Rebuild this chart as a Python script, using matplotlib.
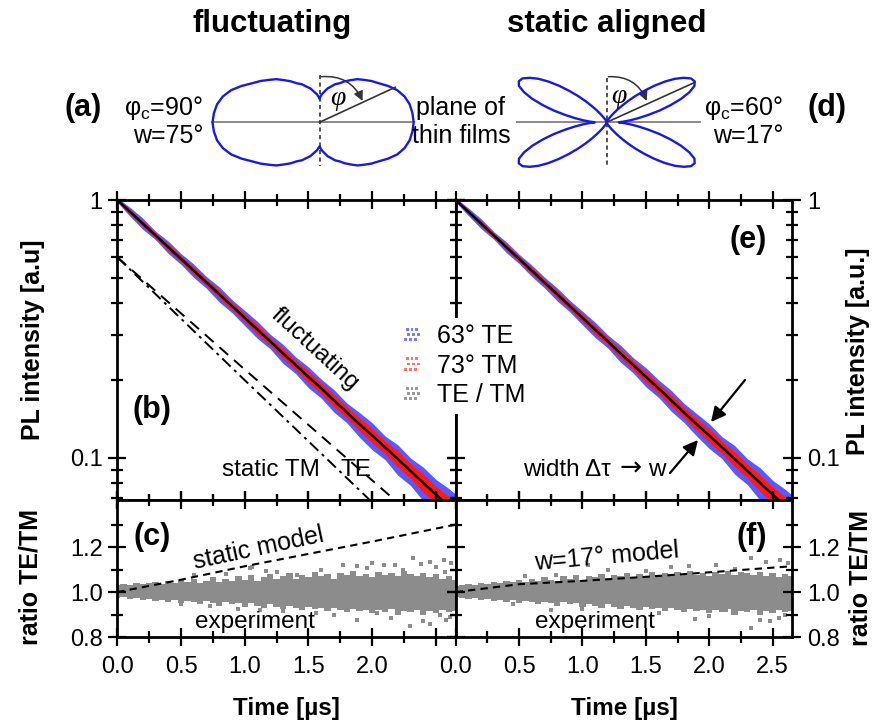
import numpy as np
import matplotlib
matplotlib.use("Agg")
import matplotlib.pyplot as plt
from matplotlib.patches import FancyArrowPatch
from matplotlib.ticker import NullFormatter

plt.rcParams['font.family'] = ['Liberation Sans', 'DejaVu Sans']
plt.rcParams['mathtext.fontset'] = 'custom'
plt.rcParams['mathtext.rm'] = 'Liberation Sans'
plt.rcParams['mathtext.it'] = 'Liberation Sans:italic'
plt.rcParams['mathtext.bf'] = 'Liberation Sans:bold'

# ---------------------------------------------------------------------------
# Data
# ---------------------------------------------------------------------------

# emission patterns, angle from film normal (deg) -> radius (px), one quadrant
fluct_phi = [0, 5, 10, 15, 20, 25, 30, 35, 40, 45, 50, 55, 60, 65, 70, 75, 80, 85, 90]
fluct_r = [24, 28, 31, 35, 38, 42, 45, 50, 55, 61, 66, 72, 78, 86, 94, 100, 104, 106, 107]
aligned_phi = [0, 10, 20, 25, 30, 32.5, 35, 37.5, 40, 42.5, 45, 47.5, 50, 52.5, 55, 57.5,
               60, 62.5, 65, 67.5, 70, 72.5, 75, 77.5, 80, 82.5, 85, 87.5, 90]
aligned_r = [0, 0.5, 1.5, 2.5, 4, 5.5, 8, 11, 16, 22, 30, 39, 49, 60, 71, 81,
             89, 95, 97, 95, 88, 78, 66, 54, 42, 32, 24, 17, 12]

# PL transients (log panels)
decay_t = [0.0, 0.1, 0.2, 0.3, 0.4, 0.5, 0.6, 0.7, 0.8, 0.9, 1.0, 1.1, 1.2, 1.3,
           1.4, 1.5, 1.6, 1.7, 1.8, 1.9, 2.0, 2.1, 2.2, 2.3, 2.4, 2.5, 2.6, 2.65]
decay_center = [1.0, 0.90, 0.81, 0.729, 0.656, 0.591, 0.532, 0.479, 0.431, 0.388, 0.349, 0.314,
                0.283, 0.254, 0.229, 0.206, 0.186, 0.167, 0.150, 0.135, 0.122, 0.110, 0.099,
                0.089, 0.080, 0.072, 0.065, 0.062]
te_spread_b = [0.02, 0.04, 0.05, 0.038, 0.055, 0.048, 0.06, 0.052, 0.068, 0.058, 0.068, 0.076,
               0.065, 0.085, 0.075, 0.093, 0.085, 0.1, 0.088, 0.11, 0.12, 0.105, 0.135, 0.122,
               0.15, 0.145, 0.17, 0.17]
tm_spread_b = [0.012, 0.021, 0.027, 0.022, 0.03, 0.027, 0.033, 0.03, 0.037, 0.033, 0.039, 0.042,
               0.037, 0.045, 0.042, 0.051, 0.048, 0.054, 0.051, 0.06, 0.063, 0.06, 0.072, 0.067,
               0.082, 0.075, 0.09, 0.09]
te_spread_e = [0.02, 0.034, 0.044, 0.034, 0.048, 0.042, 0.051, 0.048, 0.058, 0.051, 0.061, 0.068,
               0.058, 0.076, 0.068, 0.085, 0.078, 0.093, 0.085, 0.1, 0.11, 0.098, 0.127, 0.115,
               0.144, 0.136, 0.16, 0.16]
tm_spread_e = [0.012, 0.018, 0.024, 0.021, 0.027, 0.024, 0.03, 0.027, 0.033, 0.03, 0.036, 0.039,
               0.034, 0.042, 0.039, 0.048, 0.045, 0.051, 0.048, 0.055, 0.06, 0.057, 0.067, 0.063,
               0.075, 0.072, 0.084, 0.084]

static_tm_t = [0.0, 1.0, 2.2]
static_tm = [0.6, 0.2, 0.054]
static_te_t = [0.0, 1.0, 2.4]
static_te = [0.6, 0.22, 0.055]

# TE/TM ratio panels
model_t = [0.0, 0.5, 1.0, 1.5, 2.0, 2.65]
static_model = [1.0, 1.055, 1.115, 1.17, 1.225, 1.30]
w17_model = [1.0, 1.035, 1.05, 1.068, 1.088, 1.115]

ratio_t = np.round(np.arange(0.0, 2.66, 0.05), 2)
ratio_c_up = [1.03, 1.035, 1.03, 1.04, 1.035, 1.04, 1.045, 1.035, 1.05, 1.04, 1.055, 1.045, 1.06, 1.04,
              1.05, 1.065, 1.045, 1.06, 1.05, 1.07, 1.055, 1.075, 1.05, 1.065, 1.08, 1.06, 1.07,
              1.085, 1.06, 1.075, 1.065, 1.09, 1.07, 1.08, 1.06, 1.085, 1.075, 1.095, 1.07, 1.08,
              1.065, 1.09, 1.075, 1.085, 1.07, 1.095, 1.08, 1.07, 1.085, 1.065, 1.08, 1.06, 1.07, 1.055]
ratio_c_low = [0.975, 0.98, 0.97, 0.975, 0.965, 0.97, 0.96, 0.965, 0.955, 0.965, 0.95, 0.96, 0.955,
               0.945, 0.96, 0.95, 0.94, 0.955, 0.945, 0.95, 0.935, 0.95, 0.94, 0.93, 0.945, 0.935,
               0.925, 0.94, 0.93, 0.92, 0.935, 0.925, 0.93, 0.915, 0.93, 0.92, 0.91, 0.925, 0.915,
               0.92, 0.905, 0.92, 0.91, 0.925, 0.9, 0.915, 0.91, 0.92, 0.9, 0.915, 0.905, 0.92, 0.91, 0.915]
ratio_f_up = [1.025, 1.03, 1.035, 1.03, 1.04, 1.035, 1.045, 1.04, 1.05, 1.045, 1.055, 1.045, 1.06,
              1.05, 1.065, 1.055, 1.05, 1.07, 1.06, 1.075, 1.055, 1.07, 1.065, 1.08, 1.06, 1.075,
              1.07, 1.085, 1.065, 1.08, 1.07, 1.09, 1.075, 1.085, 1.07, 1.09, 1.08, 1.095, 1.075,
              1.085, 1.07, 1.09, 1.08, 1.095, 1.075, 1.09, 1.085, 1.075, 1.09, 1.07, 1.085, 1.065, 1.08, 1.07]
ratio_f_low = [0.98, 0.975, 0.97, 0.975, 0.965, 0.97, 0.96, 0.965, 0.955, 0.965, 0.95, 0.96, 0.955,
               0.945, 0.955, 0.95, 0.94, 0.955, 0.945, 0.95, 0.935, 0.945, 0.94, 0.93, 0.945, 0.935,
               0.925, 0.94, 0.93, 0.92, 0.935, 0.925, 0.93, 0.915, 0.93, 0.92, 0.91, 0.925, 0.915,
               0.92, 0.905, 0.92, 0.91, 0.925, 0.9, 0.915, 0.91, 0.92, 0.9, 0.915, 0.905, 0.92, 0.91, 0.915]

out_c_t = [1.04, 1.17, 1.41, 1.77, 1.88, 1.96, 2.09, 2.24, 2.32, 2.45, 2.56, 2.57, 0.6, 0.85,
           1.06, 1.25, 1.6, 2.0, 2.18, 2.38, 2.5, 2.62,
           0.73, 1.12, 1.56, 1.88, 2.04, 2.30, 2.40, 2.53, 2.61, 0.5, 0.95, 1.3, 1.7, 2.15, 2.45, 2.58]
out_c_r = [1.107, 1.092, 1.077, 1.121, 1.114, 1.107, 1.121, 1.10, 1.15, 1.136, 1.143, 1.09, 1.075,
           1.08, 1.11, 1.09, 1.10, 1.13, 1.12, 1.125, 1.11, 1.13,
           0.936, 0.921, 0.907, 0.877, 0.907, 0.847, 0.87, 0.90, 0.89, 0.945, 0.925, 0.915, 0.9,
           0.885, 0.86, 0.875]
out_f_t = [0.79, 1.04, 1.84, 2.33, 2.45, 2.56, 0.55, 1.2, 1.5, 1.7, 2.05, 2.2, 2.62,
           0.75, 1.39, 1.89, 2.13, 2.33, 2.48, 2.60, 0.45, 1.0, 1.6, 2.0, 2.4, 2.55]
out_f_r = [1.077, 1.121, 1.114, 1.15, 1.136, 1.143, 1.07, 1.1, 1.095, 1.11, 1.12, 1.105, 1.13,
           0.921, 0.936, 0.88, 0.92, 0.84, 0.87, 0.90, 0.945, 0.925, 0.905, 0.895, 0.875, 0.885]

# ---------------------------------------------------------------------------
# Layout helpers (pixel positions of the 874x721 reference)
# ---------------------------------------------------------------------------
W, H = 874, 721
fig = plt.figure(figsize=(W / 100, H / 100), dpi=100)


def px_rect(x0, y0, x1, y1):
    return [x0 / W, 1 - y1 / H, (x1 - x0) / W, (y1 - y0) / H]


def px(x, y):
    return (x / W, 1 - y / H)


def ftext(x, y, s, **kw):
    kw.setdefault('ha', 'center')
    kw.setdefault('va', 'center')
    return fig.text(x / W, 1 - y / H, s, **kw)


XL, XM, XR = 117.3, 455.7, 792.3
ax_b = fig.add_axes(px_rect(XL, 200, XM, 500))
ax_c = fig.add_axes(px_rect(XL, 500, XM, 637))
ax_e = fig.add_axes(px_rect(XM, 200, XR, 500))
ax_f = fig.add_axes(px_rect(XM, 500, XR, 637))

blue, red, grey = '#3030ff', '#ff1a1a', '#8c8c8c'

# ---------------------------------------------------------------------------
# Decay panels (b), (e)
# ---------------------------------------------------------------------------
c = np.asarray(decay_center)
for ax, te_s, tm_s in ((ax_b, te_spread_b, tm_spread_b), (ax_e, te_spread_e, tm_spread_e)):
    te_s, tm_s = np.asarray(te_s), np.asarray(tm_s)
    ax.fill_between(decay_t, c * (1 - te_s), c * (1 + te_s), color=blue, lw=0, alpha=0.8)
    ax.fill_between(decay_t, c * (1 - tm_s), c * (1 + tm_s), color=red, lw=0)
    ax.plot(decay_t, decay_center, color='black', lw=1.8)

ax_b.plot(static_tm_t, static_tm, color='black', lw=1.4, ls=(0, (6, 2.5, 1.5, 2.5)))
ax_b.plot(static_te_t, static_te, color='black', lw=1.4, ls=(0, (6, 4)))

# ---------------------------------------------------------------------------
# Ratio panels (c), (f)
# ---------------------------------------------------------------------------
for ax, up, low, ot, orr, model in ((ax_c, ratio_c_up, ratio_c_low, out_c_t, out_c_r, static_model),
                                    (ax_f, ratio_f_up, ratio_f_low, out_f_t, out_f_r, w17_model)):
    ax.fill_between(ratio_t, low, up, step='mid', color=grey, lw=0)
    ax.scatter(ot, orr, s=5, marker='s', color=grey, lw=0)
    ax.plot(model_t, model, color='black', lw=1.5, ls=(0, (3.5, 2.5)))

# ---------------------------------------------------------------------------
# Axes formatting
# ---------------------------------------------------------------------------
xmaj = [0.0, 0.5, 1.0, 1.5, 2.0, 2.5]
xmin = [0.25, 0.75, 1.25, 1.75, 2.25]
for ax in (ax_b, ax_c, ax_e, ax_f):
    ax.set_xlim(0, 2.655)
    ax.set_xticks(xmaj)
    ax.set_xticks(xmin, minor=True)
    for s in ax.spines.values():
        s.set_linewidth(2.0)
    ax.tick_params(which='both', direction='inout', top=True, right=True, left=True,
                   width=1.6, labelsize=17, pad=4)
    ax.tick_params(which='major', length=13)
    ax.tick_params(which='minor', length=8)

for ax in (ax_b, ax_e):
    ax.set_yscale('log')
    ax.set_ylim(0.0686, 1.0)
    ax.set_yticks([0.1, 1.0], ['0.1', '1'])
    ax.set_yticks([0.07, 0.08, 0.09, 0.2, 0.3, 0.4, 0.5, 0.6, 0.7, 0.8, 0.9], minor=True)
    ax.yaxis.set_minor_formatter(NullFormatter())
    ax.tick_params(labelbottom=False)

for ax in (ax_c, ax_f):
    ax.set_ylim(0.8, 1.41)
    ax.set_yticks([0.8, 1.0, 1.2], ['0.8', '1.0', '1.2'])
    ax.set_yticks([0.9, 1.1, 1.3], minor=True)
    ax.tick_params(axis='x', pad=7)
    ax.set_xlabel('Time [µs]', fontsize=17.5, fontweight='bold', labelpad=14)

ax_c.set_xticks(xmaj, ['0.0', '0.5', '1.0', '1.5', '2.0', ''])
ax_f.set_xticks(xmaj, ['0.0', '0.5', '1.0', '1.5', '2.0', '2.5'])

for ax in (ax_e, ax_f):
    ax.tick_params(labelleft=False, labelright=True)

ftext(33, 340, 'PL intensity [a.u]', rotation=90, fontsize=18, fontweight='bold')
ftext(30, 577, 'ratio TE/TM', rotation=90, fontsize=18, fontweight='bold')
ftext(858, 351, 'PL intensity [a.u.]', rotation=90, fontsize=18, fontweight='bold')
ftext(861, 578, 'ratio TE/TM', rotation=90, fontsize=18, fontweight='bold')

# ---------------------------------------------------------------------------
# Annotations inside the panels
# ---------------------------------------------------------------------------
ftext(152, 410, '(b)', fontsize=22, fontweight='bold')
ftext(152, 537, '(c)', fontsize=22, fontweight='bold')
ftext(748, 240, '(e)', fontsize=22, fontweight='bold')
ftext(752, 537, '(f)', fontsize=22, fontweight='bold')

ftext(315, 349, 'fluctuating', fontsize=17.5, rotation=-42.5, rotation_mode='anchor')
ftext(271, 470, 'static TM', fontsize=17.5)
ftext(356, 470, 'TE', fontsize=17.5)
ftext(259, 548, 'static model', fontsize=18, rotation=12, rotation_mode='anchor')
ftext(255, 622, 'experiment', fontsize=17.5)
ftext(607, 557, 'w=17° model', fontsize=18, rotation=5, rotation_mode='anchor')
ftext(595, 622, 'experiment', fontsize=17.5)
ftext(611, 470, 'width Δτ', fontsize=17.5, ha='right')
ftext(631, 469, '→', fontsize=19, family=['DejaVu Sans'])
ftext(657, 470, 'w', fontsize=17.5)

for tail, head in (((745, 380), (711, 422)), ((670, 473), (698, 440))):
    fig.add_artist(FancyArrowPatch(px(*tail), px(*head), transform=fig.transFigure,
                                   arrowstyle='-|>', mutation_scale=22, lw=1.6,
                                   color='black', shrinkA=0, shrinkB=0))

# legend
handles = [ax_b.scatter([], [], s=4, marker='s', color=col, lw=0)
           for col in ('#7a7aff', '#ff7070', '#9a9a9a')]
leg = fig.legend(handles, ['63° TE', '73° TM', 'TE / TM'], loc='upper left',
                 bbox_to_anchor=px(392, 318), fontsize=18, handlelength=1.1,
                 handletextpad=0.45, labelspacing=0.22, borderpad=0.25,
                 borderaxespad=0, scatterpoints=9,
                 scatteryoffsets=[0.2, 0.8, 0.5, 0.2, 0.8, 0.5, 0.2, 0.8, 0.5],
                 frameon=True, fancybox=False, framealpha=1.0)
leg.get_frame().set_edgecolor('none')
leg.get_frame().set_facecolor('white')

# ---------------------------------------------------------------------------
# Emission pattern sketches (a), (d)
# ---------------------------------------------------------------------------
ftext(272, 24, 'fluctuating', fontsize=22.5, fontweight='bold')
ftext(607, 24, 'static aligned', fontsize=22.5, fontweight='bold')
ftext(83, 108, '(a)', fontsize=22, fontweight='bold')
ftext(827, 108, '(d)', fontsize=22, fontweight='bold')
ftext(203, 108, r'$\mathrm{φ_c}$=90°', fontsize=18, ha='right')
ftext(203, 136, 'w=75°', fontsize=18, ha='right')
ftext(783, 108, r'$\mathrm{φ_c}$=60°', fontsize=18, ha='right')
ftext(783, 136, 'w=17°', fontsize=18, ha='right')
ftext(461, 108, 'plane of', fontsize=18)
ftext(461, 136, 'thin films', fontsize=18)


def lobe_xy(phi, r):
    phi = np.asarray(phi, float)
    r = np.asarray(r, float)
    ang = np.deg2rad(np.concatenate([phi, 180 - phi[::-1], 180 + phi, 360 - phi[::-1]]))
    rr = np.concatenate([r, r[::-1], r, r[::-1]])
    return rr * np.sin(ang), rr * np.cos(ang)


def sketch(x0, x1, ox, phi, r, hline, vline, tip, arc_end, phi_pos, right_scale=1.0):
    ax = fig.add_axes(px_rect(x0, 65, x1, 178))
    ax.set_xlim(x0 - ox, x1 - ox)
    ax.set_ylim(122.3 - 178, 122.3 - 65)
    ax.axis('off')
    ax.plot(hline, [0, 0], color='#808080', lw=1.3)
    ax.plot([0, 0], vline, color='#333333', lw=1.2, ls=(0, (2.5, 2)))
    x, y = lobe_xy(phi, r)
    x = np.where(x > 0, x * right_scale, x)
    ax.plot(x, y, color='#1a1add', lw=1.7, solid_joinstyle='round')
    ax.plot([0, tip[0]], [0, tip[1]], color='#333333', lw=1.2)
    ax.add_patch(FancyArrowPatch((1.7, 45.6), arc_end, arrowstyle='-|>', mutation_scale=14,
                                 connectionstyle='arc3,rad=-0.35', lw=1.1, color='#333333',
                                 shrinkA=0, shrinkB=0))
    ax.text(*phi_pos, 'φ', fontsize=20, style='italic', family='Liberation Serif',
            ha='center', va='center')


sketch(200, 420, 319.5, fluct_phi, fluct_r, [-108, 94], [47, -44],
       (75.7, 35), (43, 21.3), (18.5, 24), right_scale=0.88)
sketch(500, 715, 606.7, aligned_phi, aligned_r, [-90, 93], [44, -43],
       (88.3, 40), (40, 21.3), (12, 26))

fig.savefig('out.png', dpi=100)
